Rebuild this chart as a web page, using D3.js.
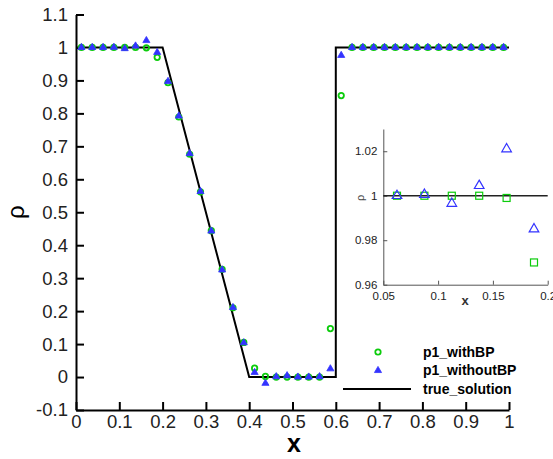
<!DOCTYPE html>
<html>
<head>
<meta charset="utf-8">
<script src="https://cdn.jsdelivr.net/npm/d3@7"></script>
<style>
  body { margin: 0; background: #fff; }
  svg { display: block; font-family: "Liberation Sans", Arial, sans-serif; }
  .tick text { fill: #222; }
</style>
</head>
<body>
<svg class="chart" width="553" height="459"></svg>
<script>
/* cell centres and the two solutions */
const xCells = [0.0125, 0.0375, 0.0625, 0.0875, 0.1125, 0.1375, 0.1625, 0.1875, 0.2125, 0.2375,
    0.2625, 0.2875, 0.3125, 0.3375, 0.3625, 0.3875, 0.4125, 0.4375, 0.4625, 0.4875,
    0.5125, 0.5375, 0.5625, 0.5875, 0.6125, 0.6375, 0.6625, 0.6875, 0.7125, 0.7375,
    0.7625, 0.7875, 0.8125, 0.8375, 0.8625, 0.8875, 0.9125, 0.9375, 0.9625, 0.9875]

const withBP = [1, 1, 1, 1, 1, 1, 0.999, 0.970, 0.893, 0.789,
    0.676, 0.562, 0.444, 0.327, 0.210, 0.105, 0.027, 0.002, 0.000, 0.000,
    0.000, 0.000, 0.000, 0.147, 0.854, 1, 1, 1, 1, 1,
    1, 1, 1, 1, 1, 1, 1, 1, 1, 1]

const withoutBP = [1, 1, 1, 1.0005, 0.9965, 1.0045, 1.021, 0.985, 0.897, 0.792,
    0.678, 0.563, 0.443, 0.325, 0.211, 0.104, 0.014, -0.019, 0.001, 0.004,
    0.000, 0.000, 0.001, 0.025, 0.976, 1, 1, 1, 1, 1,
    1, 1, 1, 1, 1, 1, 1, 1, 1, 1]

const trueX = [0, 0.2, 0.4, 0.6, 0.6, 1]
const trueRho = [1, 1, 0, 0, 1, 1]

const xTicks = [0, 0.1, 0.2, 0.3, 0.4, 0.5, 0.6, 0.7, 0.8, 0.9, 1]
const xTickLabels = ["0", "0.1", "0.2", "0.3", "0.4", "0.5", "0.6", "0.7", "0.8", "0.9", "1"]
const yTicks = [-0.1, 0, 0.1, 0.2, 0.3, 0.4, 0.5, 0.6, 0.7, 0.8, 0.9, 1, 1.1]
const yTickLabels = ["-0.1", "0", "0.1", "0.2", "0.3", "0.4", "0.5", "0.6", "0.7", "0.8", "0.9", "1", "1.1"]

const insetXTicks = [0.05, 0.1, 0.15, 0.2]
const insetXTickLabels = ["0.05", "0.1", "0.15", "0.2"]
const insetYTicks = [0.96, 0.98, 1, 1.02]
const insetYTickLabels = ["0.96", "0.98", "1", "1.02"]

const legendLabels = ["p1_withBP", "p1_withoutBP", "true_solution"]

const green = "#0ccc0c", blue = "#3333ff"

const svg = d3.select("svg.chart")

const x = d3.scaleLinear().domain([0, 1]).range([76, 509])
const y = d3.scaleLinear().domain([-0.1, 1.1]).range([410, 14.5])

const pts = xCells.map((d, i) => ({x: d, a: withBP[i], b: withoutBP[i]}))
const truePts = trueX.map((d, i) => [d, trueRho[i]])

/* main axes */
const xAxis = d3.axisBottom(x)
    .tickValues(xTicks)
    .tickFormat((d, i) => xTickLabels[i])
    .tickSize(-8).tickSizeOuter(0).tickPadding(5)

const yAxis = d3.axisLeft(y)
    .tickValues(yTicks)
    .tickFormat((d, i) => yTickLabels[i])
    .tickSize(-8).tickSizeOuter(0).tickPadding(8)

const gx = svg.append("g")
    .attr("transform", "translate(0," + y(-0.1) + ")")
    .call(xAxis)
gx.selectAll("text").style("font-size", "18.5px")

const gy = svg.append("g")
    .attr("transform", "translate(" + x(0) + ",0)")
    .call(yAxis)
gy.selectAll("text").style("font-size", "18.5px")

svg.selectAll(".domain, .tick line")
    .attr("stroke", "#000").attr("stroke-width", 2)

svg.append("text")
    .attr("transform", "translate(24," + y(0.5) + ") rotate(-90)")
    .attr("text-anchor", "middle")
    .style("font-size", "24px")
    .text("ρ")

svg.append("text")
    .attr("x", 294).attr("y", 452)
    .attr("text-anchor", "middle")
    .style("font-size", "25px").style("font-weight", "bold")
    .text("x")

/* true solution */
const line = d3.line().x(d => x(d[0])).y(d => y(d[1]))

svg.append("path")
    .datum(truePts)
    .attr("d", line)
    .attr("fill", "none").attr("stroke", "#000").attr("stroke-width", 2)

/* markers */
svg.append("g").selectAll("circle")
    .data(pts)
    .enter()
    .append("circle")
    .attr("cx", d => x(d.x))
    .attr("cy", d => y(d.a))
    .attr("r", 2.7)
    .attr("fill", "none").attr("stroke", green).attr("stroke-width", 1.8)

const tri = d3.symbol().type(d3.symbolTriangle).size(22)

svg.append("g").selectAll("path")
    .data(pts)
    .enter()
    .append("path")
    .attr("d", tri)
    .attr("transform", d => "translate(" + x(d.x) + "," + y(d.b) + ")")
    .attr("fill", blue).attr("stroke", blue).attr("stroke-width", 0.8)

/* inset */
const xi = d3.scaleLinear().domain([0.05, 0.2]).range([383.3, 547.7])
const yi = d3.scaleLinear().domain([0.96, 1.03]).range([284.7, 129])

const inset = svg.append("g")

const xiAxis = d3.axisBottom(xi)
    .tickValues(insetXTicks)
    .tickFormat((d, i) => insetXTickLabels[i])
    .tickSize(-4).tickSizeOuter(0).tickPadding(7)

const yiAxis = d3.axisLeft(yi)
    .tickValues(insetYTicks)
    .tickFormat((d, i) => insetYTickLabels[i])
    .tickSize(-4).tickSizeOuter(0).tickPadding(6)

inset.append("g")
    .attr("transform", "translate(0," + yi(0.96) + ")")
    .call(xiAxis)

inset.append("g")
    .attr("transform", "translate(" + xi(0.05) + ",0)")
    .call(yiAxis)

inset.selectAll(".domain, .tick line").attr("stroke", "#555").attr("stroke-width", 1)
inset.selectAll("text").style("font-size", "11.5px").attr("fill", "#444")

inset.append("text")
    .attr("transform", "translate(364," + yi(0.999) + ") rotate(-90)")
    .attr("text-anchor", "middle")
    .style("font-size", "11px").attr("fill", "#444")
    .text("ρ")

inset.append("text")
    .attr("x", 465).attr("y", 305)
    .attr("text-anchor", "middle")
    .style("font-size", "13px").style("font-weight", "bold").attr("fill", "#333")
    .text("x")

inset.append("line")
    .attr("x1", xi(0.05)).attr("x2", xi(0.2))
    .attr("y1", yi(1)).attr("y2", yi(1))
    .attr("stroke", "#222").attr("stroke-width", 1.3)

const insetPts = pts.filter(d => d.x > 0.05 && d.x < 0.2)

inset.append("g").selectAll("rect")
    .data(insetPts)
    .enter()
    .append("rect")
    .attr("x", d => xi(d.x) - 3.5)
    .attr("y", d => yi(d.a) - 3.5)
    .attr("width", 7).attr("height", 7)
    .attr("fill", "none").attr("stroke", green).attr("stroke-width", 1.2)

const triInset = d3.symbol().type(d3.symbolTriangle).size(40)

inset.append("g").selectAll("path")
    .data(insetPts)
    .enter()
    .append("path")
    .attr("d", triInset)
    .attr("transform", d => "translate(" + xi(d.x) + "," + yi(d.b) + ")")
    .attr("fill", "none").attr("stroke", blue).attr("stroke-width", 1.2)

/* legend */
const legend = svg.append("g")
    .attr("transform", "translate(378,352)")

legend.append("circle")
    .attr("r", 2.7)
    .attr("fill", "none").attr("stroke", green).attr("stroke-width", 1.8)

legend.append("path")
    .attr("d", tri)
    .attr("transform", "translate(0,18.5)")
    .attr("fill", blue).attr("stroke", blue).attr("stroke-width", 0.8)

legend.append("line")
    .attr("x1", -35).attr("x2", 33)
    .attr("y1", 37).attr("y2", 37)
    .attr("stroke", "#000").attr("stroke-width", 2)

legend.selectAll("text.lab")
    .data(legendLabels)
    .enter()
    .append("text")
    .attr("class", "lab")
    .attr("x", 45)
    .attr("y", (d, i) => 4.5 + i * 18.5)
    .style("font-size", "14px").style("font-weight", "bold")
    .text(d => d)
</script>
</body>
</html>
